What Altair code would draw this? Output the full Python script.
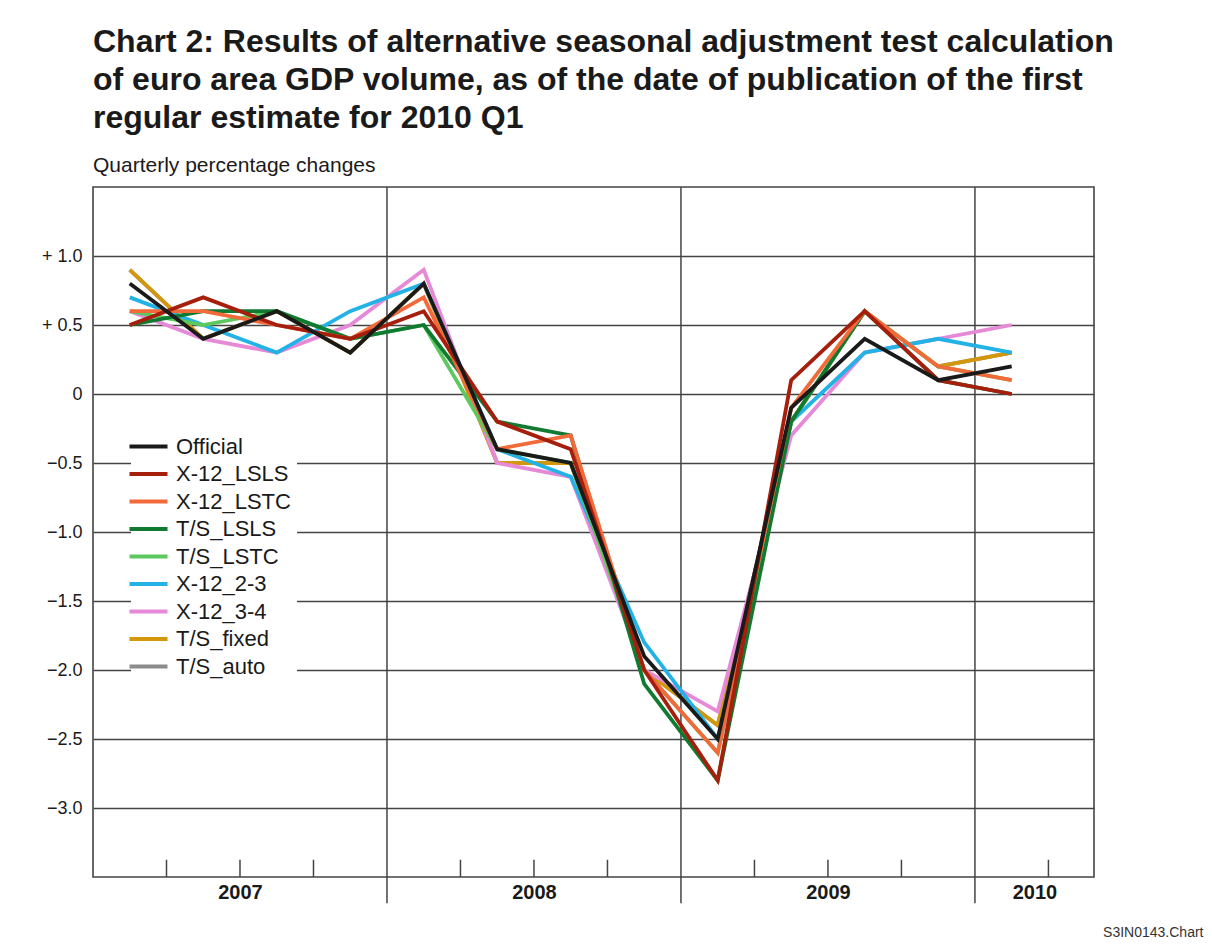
import altair as alt
import pandas as pd

# ---- data ----
quarters = ["2007Q1", "2007Q2", "2007Q3", "2007Q4",
            "2008Q1", "2008Q2", "2008Q3", "2008Q4",
            "2009Q1", "2009Q2", "2009Q3", "2009Q4", "2010Q1"]
official   = [0.8, 0.4, 0.6, 0.3, 0.8, -0.4, -0.5, -1.9, -2.5, -0.1, 0.4, 0.1, 0.2]
x12_lsls   = [0.5, 0.7, 0.5, 0.4, 0.6, -0.2, -0.4, -2.0, -2.8, 0.1, 0.6, 0.1, 0.0]
x12_lstc   = [0.6, 0.6, 0.5, 0.4, 0.7, -0.4, -0.3, -2.0, -2.6, -0.1, 0.6, 0.2, 0.1]
ts_lsls    = [0.5, 0.6, 0.6, 0.4, 0.5, -0.2, -0.3, -2.1, -2.8, -0.2, 0.6, 0.1, 0.0]
ts_lstc    = [0.6, 0.5, 0.6, 0.4, 0.5, -0.4, -0.5, -2.0, -2.6, -0.2, 0.6, 0.2, 0.1]
x12_23     = [0.7, 0.5, 0.3, 0.6, 0.8, -0.4, -0.6, -1.8, -2.5, -0.2, 0.3, 0.4, 0.3]
x12_34     = [0.6, 0.4, 0.3, 0.5, 0.9, -0.5, -0.6, -2.0, -2.3, -0.3, 0.3, 0.4, 0.5]
ts_fixed   = [0.9, 0.4, 0.6, 0.3, 0.8, -0.5, -0.5, -2.0, -2.4, -0.2, 0.6, 0.2, 0.3]
ts_auto    = [0.9, 0.4, 0.6, 0.3, 0.8, -0.5, -0.5, -2.0, -2.4, -0.2, 0.6, 0.2, 0.3]

legend_order = ["Official", "X-12_LSLS", "X-12_LSTC", "T/S_LSLS", "T/S_LSTC",
                "X-12_2-3", "X-12_3-4", "T/S_fixed", "T/S_auto"]
series_values = [official, x12_lsls, x12_lstc, ts_lsls, ts_lstc,
                 x12_23, x12_34, ts_fixed, ts_auto]
colors = ["#1a1a1a", "#a61e0c", "#f2693a", "#107a30", "#5cc85e",
          "#22b2e6", "#e68ad8", "#d4970c", "#8c8c8c"]
draw_order = ["T/S_auto", "T/S_fixed", "X-12_3-4", "X-12_2-3", "T/S_LSTC",
              "T/S_LSLS", "X-12_LSTC", "X-12_LSLS", "Official"]

years = ["2007", "2008", "2009", "2010"]
year_label_pos = [2, 6, 10, 12.81]
year_bounds = [4, 8, 12]
quarter_ticks = [1, 2, 3, 5, 6, 7, 9, 10, 11, 13]
y_ticks = [-3.0, -2.5, -2.0, -1.5, -1.0, -0.5, 0.0, 0.5, 1.0]
x_domain = [0, 13.62]
y_domain = [-3.5, 1.5]

rows = []
for name, vals in zip(legend_order, series_values):
    for i, (q, v) in enumerate(zip(quarters, vals)):
        rows.append({"series": name, "quarter": q, "x": i + 0.5, "v": v})
df = pd.DataFrame(rows)

FONT = "Liberation Sans"
INK = "#1a1a1a"
GRID = "#444444"

label_expr = " : ".join(
    [f"abs(datum.value - {p}) < 0.01 ? '{y}'" for p, y in zip(year_label_pos, years)]
) + " : ''"

xscale = alt.Scale(domain=x_domain, nice=False, zero=False)
yscale = alt.Scale(domain=y_domain, nice=False, zero=False)

x_axis = alt.Axis(values=year_label_pos, labelExpr=label_expr, grid=False, ticks=False,
                  domain=False, labelFont=FONT, labelFontSize=20, labelFontWeight="bold",
                  labelColor=INK, labelPadding=5, labelFlush=False,
                  title="S3IN0143.Chart", titleFont=FONT, titleFontSize=14,
                  titleFontWeight="normal", titleColor="#333333", titleAlign="right",
                  titleAnchor="end", titleX=1110, titleY=59, titleBaseline="alphabetic")

y_label_expr = ("datum.value > 0 ? '+ ' + format(datum.value, '.1f') : "
                "(datum.value == 0 ? '0' : '\u2212' + format(-datum.value, '.1f'))")
y_axis = alt.Axis(values=y_ticks, labelExpr=y_label_expr, grid=True, gridColor=GRID,
                  gridWidth=1.6, ticks=False, tickSize=0, domain=False, labelFont=FONT,
                  labelFontSize=18, labelColor=INK, labelPadding=11, title=None)

# long horizontal stroke symbol: path spans 4 units so its length is 2*sqrt(size)
legend = alt.Legend(orient="none", legendX=38, legendY=242, title=None,
                    symbolType="M-2,0L2,0", symbolStrokeWidth=4, symbolSize=361,
                    labelFont=FONT, labelFontSize=22, labelColor=INK, labelOffset=16,
                    fillColor="white", padding=6, rowPadding=4.5, labelLimit=300)

color = alt.Color("series:N", scale=alt.Scale(domain=legend_order, range=colors),
                  legend=legend)

X = alt.X("x:Q", scale=xscale, axis=x_axis)
Y = alt.Y("v:Q", scale=yscale, axis=y_axis)

base = alt.Chart(df)
layers = []
for s in draw_order:
    layers.append(
        base.transform_filter(alt.datum.series == s)
        .mark_line(strokeWidth=3.8, strokeJoin="miter")
        .encode(x=X, y=Y, color=color)
    )

# year separators (full height, extending below the axis)
bounds_df = pd.DataFrame({"x": year_bounds, "v": [y_domain[1]] * 3,
                          "bottom": [y_domain[0] - 0.19] * 3})
year_rules = alt.Chart(bounds_df).mark_rule(color=GRID, strokeWidth=1.5).encode(
    x=X, y=Y, y2="bottom:Q")

# inward quarter ticks on the bottom axis
qt_df = pd.DataFrame({"x": quarter_ticks, "v": [y_domain[0]] * len(quarter_ticks),
                      "y1": [y_domain[0] + 0.125] * len(quarter_ticks)})
q_rules = alt.Chart(qt_df).mark_rule(color=GRID, strokeWidth=1.5).encode(
    x=X, y=Y, y2="y1:Q")

chart = alt.layer(year_rules, q_rules, *layers).properties(
    width=1001, height=690,
    padding={"left": 85, "top": 179, "right": 110, "bottom": 62},
    autosize=alt.AutoSizeParams(type="none"),
    title=alt.TitleParams(
        text=["Chart 2: Results of alternative seasonal adjustment test calculation",
              "of euro area GDP volume, as of the date of publication of the first",
              "regular estimate for 2010 Q1"],
        subtitle="Quarterly percentage changes",
        anchor="start", frame="group", font=FONT, fontSize=32, fontWeight="bold",
        color=INK, lineHeight=38, subtitleFont=FONT, subtitleFontSize=21,
        subtitleColor=INK, subtitlePadding=20, offset=9,
    ),
).configure(background="white").configure_view(stroke=GRID, strokeWidth=1.6)

chart.save("out.html", embed_options={"renderer": "svg", "actions": False})
